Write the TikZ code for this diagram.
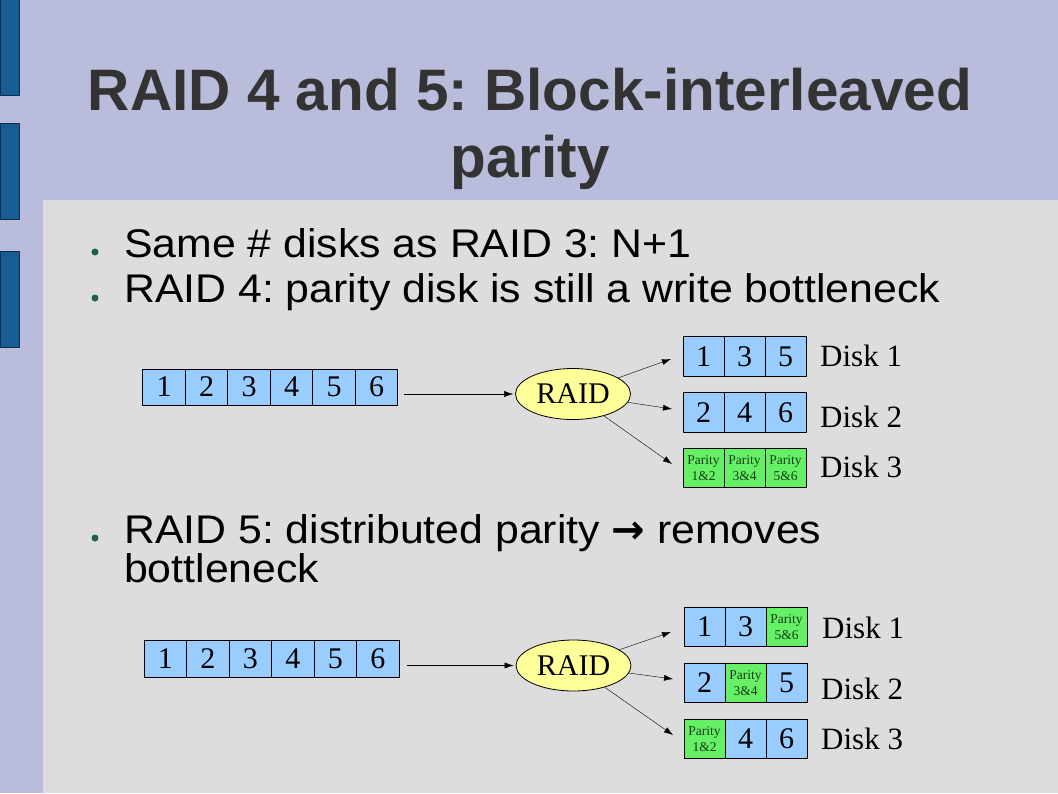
\documentclass[tikz,border=0pt]{standalone}
\usepackage{fontspec}
\setmainfont{Liberation Serif}
\newfontfamily\arialfont{Liberation Sans}
\newfontfamily\bodyfont{Liberation Sans}[FakeStretch=1.07]
\newfontfamily\symbfont{DejaVu Sans}
\usetikzlibrary{positioning,shapes.geometric,arrows.meta}
\definecolor{bandblue}{RGB}{185,188,219}
\definecolor{panelgray}{RGB}{221,221,221}
\definecolor{barblue}{RGB}{24,92,148}
\definecolor{cellblue}{RGB}{153,204,255}
\definecolor{paritygreen}{RGB}{102,240,102}
\definecolor{paritytext}{RGB}{20,60,20}
\definecolor{raidyellow}{RGB}{255,255,153}
\definecolor{titlegray}{RGB}{51,51,51}
\definecolor{dotgreen}{RGB}{30,95,80}
\frenchspacing
\begin{document}
\begin{tikzpicture}[>={Latex[length=9pt,width=6pt]},x=1pt,y=-1pt,line join=round,
	cell/.style={draw,line width=0.8pt,fill=cellblue,inner sep=0pt,outer sep=0pt,minimum width=42.5pt,minimum height=36pt,font=\fontsize{30}{30}\selectfont},
	dcell/.style={cell,minimum width=41pt,minimum height=39.5pt},
	pcell/.style={dcell,fill=paritygreen,align=center,font=\fontsize{13.5}{15.5}\selectfont\color{paritytext}},
	raid/.style={ellipse,draw,line width=0.8pt,fill=raidyellow,minimum width=115pt,minimum height=51pt,inner sep=0pt,font=\fontsize{30}{30}\selectfont},
	disk/.style={anchor=base west,inner sep=0pt,font=\fontsize{31}{31}\selectfont},
	title/.style={anchor=base,inner sep=0pt,text=titlegray,font=\arialfont\bfseries\fontsize{58.5}{58.5}\selectfont},
	bullet/.style={anchor=base west,inner sep=0pt,font=\bodyfont\fontsize{40}{40}\selectfont},
	dot/.style={circle,fill=dotgreen,inner sep=0pt,minimum size=7pt}]
	\useasboundingbox (0,0) rectangle (1058,793);
	% slide background
	\fill[bandblue] (0,0) rectangle (1058,793);
	\fill[panelgray] (43,200) rectangle (1058,793);
	\foreach \y in {-1,123,251}{
			\draw[barblue!50!black,fill=barblue] (0,\y) rectangle (19,\y+96);
		}
	% title and bullets
	\node[title] (t1) at (530,110) {RAID 4 and 5: Block-interleaved};
	\node[title] (t2) at (530,177) {parity};
	\node[bullet] (b1) at (124,257) {Same \# disks as RAID 3: N+1};
	\node[bullet] (b2) at (124,302) {RAID 4: parity disk is still a write bottleneck};
	\node[bullet] (b3) at (124,543) {RAID 5: distributed parity {\symbfont\bfseries →} removes};
	\node[bullet] (b4) at (124,582) {bottleneck};
	\foreach \n/\y in {1/252,2/298,3/538}{
			\node[dot] (d\n) at (95,\y) {};
		}
	% RAID 4
	\node[cell] (a1) at (164,387) {1};
	\foreach \i [remember=\i as \p (initially 1)] in {2,...,6}
	\node[cell,right=0pt of a\p] (a\i) {\i};
	\node[raid] (ra) at (573,394) {RAID};
	\coordinate (ain) at ([xshift=6pt]a6.east |- ra.west);
	\draw[->] (ain) -- ([xshift=-2pt]ra.west);
	\foreach \k/\s/\t in {1/dcell/1,2/dcell/3,3/dcell/5}
	\node[\s] (u1-\k) at (662.5+41*\k,356.5) {\t};
	\foreach \k/\s/\t in {1/dcell/2,2/dcell/4,3/dcell/6}
	\node[\s] (u2-\k) at (662.5+41*\k,412.5) {\t};
	\foreach \k/\s/\t in {1/pcell/Parity\\1\&2,2/pcell/Parity\\3\&4,3/pcell/Parity\\5\&6}
	\node[\s] (u3-\k) at (662.5+41*\k,468) {\t};
	\draw[->] (ra) -- ([xshift=-12pt,yshift=-2.5pt]u1-1.west);
	\draw[->] (ra) -- ([xshift=-11pt,yshift=3.5pt]u2-1.west);
	\draw[->] (ra) -- ([xshift=-11pt,yshift=4pt]u3-1.west);
	\node[disk] (l1) at (820,366) {Disk 1};
	\node[disk] (l2) at (820,427) {Disk 2};
	\node[disk] (l3) at (820,477) {Disk 3};
	% RAID 5
	\node[cell,minimum height=37pt] (c1) at (165.25,658.5) {1};
	\foreach \i [remember=\i as \p (initially 1)] in {2,...,6}
	\node[cell,minimum height=37pt,right=0pt of c\p] (c\i) {\i};
	\node[raid] (rb) at (573.5,665.5) {RAID};
	\coordinate (bin) at ([xshift=8pt]c6.east |- rb.west);
	\draw[->] (bin) -- ([xshift=-2pt]rb.west);
	\foreach \k/\s/\t in {1/dcell/1,2/dcell/3,3/pcell/Parity\\5\&6}
	\node[\s] (v1-\k) at (663.5+41*\k,627) {\t};
	\foreach \k/\s/\t in {1/dcell/2,2/pcell/Parity\\3\&4,3/dcell/5}
	\node[\s] (v2-\k) at (663.5+41*\k,683) {\t};
	\foreach \k/\s/\t in {1/pcell/Parity\\1\&2,2/dcell/4,3/dcell/6}
	\node[\s] (v3-\k) at (663.5+41*\k,739) {\t};
	\draw[->] (rb) -- ([xshift=-13pt,yshift=-5pt]v1-1.west);
	\draw[->] (rb) -- ([xshift=-11pt,yshift=4pt]v2-1.west);
	\draw[->] (rb) -- ([xshift=-11pt,yshift=4pt]v3-1.west);
	\node[disk] (m1) at (822,638) {Disk 1};
	\node[disk] (m2) at (821,699) {Disk 2};
	\node[disk] (m3) at (821,749) {Disk 3};
\end{tikzpicture}
\end{document}
